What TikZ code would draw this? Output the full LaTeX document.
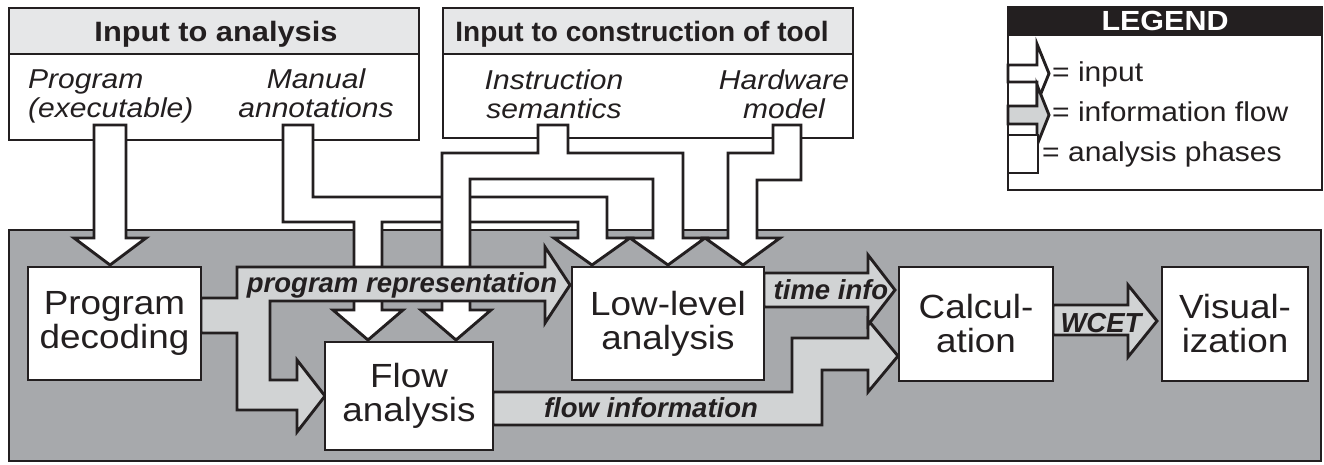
\documentclass[tikz,border=0pt]{standalone}
\usepackage{fontspec}
\setmainfont{Liberation Sans}
\newfontfamily\widesans{Liberation Sans}[FakeStretch=1.1]

\definecolor{ink}{HTML}{231F20}
\definecolor{panelgray}{HTML}{A7A9AC}
\definecolor{flowgray}{HTML}{D1D3D4}
\definecolor{headgray}{HTML}{E6E7E8}

\tikzset{
  rim/.style={draw=ink, line width=2.9pt, line join=miter},
  phase/.style={rim, fill=white, inner sep=0pt, align=center, text=ink,
    font=\widesans\fontsize{33.5}{34}\selectfont},
  sourcebox/.style={rim, fill=white, inner sep=0pt},
  headband/.style={rim, fill=headgray, inner sep=0pt},
  headtext/.style={inner sep=0pt, text=ink, anchor=base},
  inputarrow/.style={rim, fill=white},
  infoarrow/.style={rim, fill=flowgray},
  sourcelabel/.style={inner sep=0pt, text=ink,
    font=\widesans\itshape\fontsize{27.3}{28}\selectfont},
  flowlabel/.style={inner sep=0pt, text=ink, anchor=base,
    font=\bfseries\itshape\fontsize{27.5}{30}\selectfont},
  legendtext/.style={inner sep=0pt, text=ink, anchor=base west,
    font=\widesans\fontsize{27.3}{28}\selectfont},
}

\begin{document}
\begin{tikzpicture}[x=1pt,y=-1pt]
\useasboundingbox (0,0) rectangle (1324,465);

% ---- input sources -------------------------------------------------
\node[sourcebox, minimum width=410pt, minimum height=132pt] (srcA) at (214,74) {};
\node[headband, minimum width=410pt, minimum height=46pt] (srcAhead) at (214,31) {};
\node[headtext, font=\widesans\bfseries\fontsize{28}{32}\selectfont] (srcAtitle) at (216,42) {Input to analysis};

\node[sourcebox, minimum width=410pt, minimum height=130pt] (srcB) at (648,73) {};
\node[headband, minimum width=410pt, minimum height=46pt] (srcBhead) at (648,31) {};
\node[headtext, font=\bfseries\fontsize{28}{32}\selectfont] (srcBtitle) at (642,42) {Input to construction of tool};

\node[sourcelabel, anchor=west, align=left] (lprog) at (28,97.4) {\strut Program\\\strut(executable)};
\node[sourcelabel, align=center] (lman) at (316,97.4) {\strut Manual\\\strut annotations};
\node[sourcelabel, align=center] (lins) at (554,98.4) {\strut Instruction\\\strut semantics};
\node[sourcelabel, align=center] (lhw) at (784,98.4) {\strut Hardware\\\strut model};

% ---- legend ----------------------------------------------------------
\node[rim, fill=white, minimum width=314pt, minimum height=183pt, inner sep=0pt] (legend) at (1165,98.5) {};
\node[rim, fill=ink, minimum width=314pt, minimum height=28pt, inner sep=0pt] (legendhead) at (1165,21) {};
\node[headtext, text=white, font=\widesans\bfseries\fontsize{27.7}{30}\selectfont] (legendtitle) at (1165,31) {LEGEND};
\draw[inputarrow] (1008,65) -- (1037,65) -- (1037,44) -- (1049,73.5) -- (1037,103) -- (1037,82) -- (1008,82) -- cycle;
\draw[infoarrow] (1008,106) -- (1037,106) -- (1037,85) -- (1049,115) -- (1037,145) -- (1037,124) -- (1008,124) -- cycle;
\node[rim, fill=white, minimum width=30pt, minimum height=38pt, inner sep=0pt] (legphase) at (1023,154) {};
\node[legendtext] (legin) at (1052,82) {= input};
\node[legendtext] (legflow) at (1052,122) {= information flow};
\node[legendtext] (legph) at (1042,162) {= analysis phases};

% ---- analysis panel --------------------------------------------------
\node[rim, fill=panelgray, minimum width=1312pt, minimum height=231pt, inner sep=0pt] (panel) at (665,345.5) {};

% ---- input arrows (white) --------------------------------------------
% program -> program decoding
\draw[inputarrow] (94,125) -- (94,238) -- (74,238) -- (110,265) -- (146,238) -- (126,238) -- (126,125) -- cycle;
% manual annotations -> flow analysis and low-level analysis
\draw[inputarrow] (283,125) -- (283,222) -- (354,222) -- (354,310) -- (333,310) -- (368,340)
  -- (403,310) -- (382,310) -- (382,222) -- (578,222) -- (578,238) -- (554,238) -- (592,265)
  -- (630,238) -- (607,238) -- (607,197) -- (313,197) -- (313,125) -- cycle;
% instruction semantics -> flow analysis and low-level analysis
\draw[inputarrow] (538,125) -- (538,153) -- (442,153) -- (442,310) -- (421,310) -- (456,340)
  -- (491,310) -- (470,310) -- (470,179) -- (653,179) -- (653,238) -- (630,238) -- (668,265)
  -- (705,238) -- (683,238) -- (683,153) -- (568,153) -- (568,125) -- cycle;
% hardware model -> low-level analysis
\draw[inputarrow] (773,125) -- (773,153) -- (728,153) -- (728,238) -- (705,238) -- (743,265)
  -- (780,238) -- (757,238) -- (757,180) -- (801,180) -- (801,125) -- cycle;

% ---- information flow arrows (grey) ------------------------------------
\draw[infoarrow] (201,298) -- (237,298) -- (237,267) -- (545,267) -- (545,247) -- (570,285)
  -- (545,323) -- (545,301) -- (270,301) -- (270,380) -- (297,380) -- (297,360) -- (325,396)
  -- (297,432) -- (297,410) -- (237,410) -- (237,333) -- (201,333) -- cycle;
\draw[infoarrow] (493,392) -- (792,392) -- (792,338) -- (868,338) -- (868,320) -- (898,356)
  -- (868,392) -- (868,370) -- (822,370) -- (822,425) -- (493,425) -- cycle;
\draw[infoarrow] (764,273) -- (868,273) -- (868,255) -- (895,290) -- (868,325) -- (868,307)
  -- (764,307) -- cycle;
\draw[infoarrow] (1053,305) -- (1128,305) -- (1128,285) -- (1157,321) -- (1128,357) -- (1128,335)
  -- (1053,335) -- cycle;

\node[flowlabel] (tprog) at (402,292) {program representation};
\node[flowlabel] (ttime) at (831,299) {time info};
\node[flowlabel] (tflow) at (651,417) {flow information};
\node[flowlabel] (twcet) at (1101,332) {WCET};

% ---- analysis phases -----------------------------------------------------
\node[phase, minimum width=173pt, minimum height=113pt] (pd) at (114.5,323.5) {Program\\decoding};
\node[phase, minimum width=168pt, minimum height=108pt] (fa) at (409,396) {Flow\\analysis};
\node[phase, minimum width=192pt, minimum height=113pt] (ll) at (668,323.5) {Low-level\\analysis};
\node[phase, minimum width=154pt, minimum height=114pt] (calc) at (976,324) {Calcul-\\ation};
\node[phase, minimum width=146pt, minimum height=114pt] (vis) at (1235,324) {Visual-\\ization};
\end{tikzpicture}
\end{document}
